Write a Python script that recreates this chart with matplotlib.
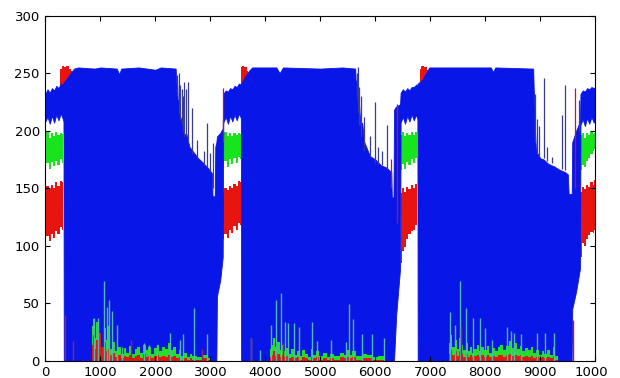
import numpy as np
import matplotlib.pyplot as plt
from matplotlib.transforms import Bbox

nan = np.nan

# blue trace envelope: sample index, lower edge, upper edge
blue_x = [0, 40, 80, 120, 160, 200, 240, 280, 320, 330,
          335, 400, 460, 520, 600, 900, 1000, 1300, 1340, 1380, 1700, 2000, 2100, 2370,
          2380, 2395, 2410, 2430, 2450, 2480, 2520, 2560, 2620, 2700, 2780, 2850, 2950,
          3030, 3040, 3080, 3090, 3110, 3120, 3180, 3225,
          3235, 3280, 3320, 3360, 3400, 3440, 3480, 3520, 3555,
          3560, 3620, 3700, 3760, 4200, 4260, 4320, 5000, 5400, 5635,
          5645, 5660, 5680, 5700, 5730, 5760, 5800, 5850, 5900, 6000, 6100, 6200, 6290,
          6300, 6330, 6340, 6360, 6380, 6450,
          6460, 6500, 6540, 6580, 6620, 6660, 6700, 6740, 6765,
          6770, 6850, 6920, 6980, 8100, 8140, 8180, 8870,
          8880, 8890, 8905, 8920, 8950, 9000, 9060, 9150, 9250, 9350, 9450, 9500,
          9515, 9570, 9580, 9650, 9720,
          9730, 9770, 9810, 9850, 9890, 9930, 9970, 10000]
blue_lo = [208, 212, 206, 213, 207, 214, 209, 215, 210, 208,
           0, 0, 0, 0, 0, 0, 0, 0, 0, 0, 0, 0, 0, 0,
           0, 0, 0, 0, 0, 0, 0, 0, 0, 0, 0, 0, 0,
           0, 0, 0, 0, 0, 56, 70, 90,
           207, 212, 206, 213, 208, 214, 209, 215, 211,
           0, 0, 0, 0, 0, 0, 0, 0, 0, 0,
           0, 0, 0, 0, 0, 0, 0, 0, 0, 0, 0, 0, 0,
           0, 0, 0, 20, 40, 80,
           207, 212, 206, 213, 208, 214, 209, 214, 210,
           0, 0, 0, 0, 0, 0, 0, 0,
           0, 0, 0, 0, 0, 0, 0, 0, 0, 0, 0, 0,
           0, 0, 45, 60, 80,
           205, 210, 204, 211, 206, 212, 207, 210]
blue_hi = [232, 236, 233, 237, 235, 239, 237, 241, 240, 241,
           242, 246, 250, 254, 255, 254, 255, 254, 249, 254, 255, 253, 255, 254,
           240, 246, 222, 228, 208, 212, 196, 198, 186, 181, 176, 173, 168,
           163, 143, 143, 186, 190, 195, 198, 202,
           232, 235, 234, 237, 236, 239, 238, 241, 240,
           241, 246, 252, 255, 255, 250, 255, 254, 255, 254,
           238, 244, 220, 226, 204, 207, 190, 184, 178, 175, 170, 168, 164,
           142, 142, 218, 220, 221, 223,
           233, 236, 234, 237, 235, 238, 238, 240, 240,
           241, 244, 250, 255, 255, 251, 255, 254,
           236, 226, 198, 184, 180, 176, 175, 171, 169, 166, 164, 162,
           145, 145, 190, 200, 208,
           232, 235, 234, 237, 236, 238, 237, 238]

# green trace in the four gaps (nan splits the bands)
green_x = [0, 40, 80, 120, 160, 200, 240, 280, 330, nan,
           3235, 3280, 3320, 3360, 3400, 3440, 3480, 3520, 3555, nan,
           6460, 6500, 6540, 6580, 6620, 6660, 6700, 6740, 6765, nan,
           9730, 9770, 9810, 9850, 9890, 9930, 9970, 10000]
green_lo = [168, 172, 167, 173, 169, 174, 170, 175, 172, nan,
            169, 174, 168, 175, 171, 176, 172, 177, 175, nan,
            166, 171, 167, 173, 170, 175, 172, 176, 173, nan,
            166, 170, 168, 174, 176, 180, 182, 184]
green_hi = [196, 199, 194, 198, 195, 199, 196, 198, 197, nan,
            197, 199, 195, 198, 195, 198, 196, 198, 197, nan,
            196, 199, 195, 198, 196, 199, 196, 199, 198, nan,
            196, 198, 194, 198, 196, 199, 197, 198]

# red trace in the gaps plus the short bursts at the top after each gap
red_x = [0, 40, 80, 120, 160, 200, 240, 280, 330, nan,
         3235, 3280, 3320, 3360, 3400, 3440, 3480, 3520, 3555, nan,
         6460, 6500, 6540, 6580, 6620, 6660, 6700, 6740, 6765, nan,
         9730, 9770, 9810, 9850, 9890, 9930, 9970, 10000, nan,
         270, 320, 360, 400, 450, 490, nan,
         3560, 3600, 3640, 3690, nan,
         6810, 6860, 6910, 6960]
red_lo = [103, 108, 104, 110, 107, 113, 110, 116, 114, nan,
          106, 110, 107, 114, 111, 117, 114, 120, 118, nan,
          85, 95, 99, 106, 110, 113, 114, 118, 117, nan,
          90, 102, 100, 106, 109, 112, 111, 114, nan,
          238, 238, 238, 238, 238, 238, nan,
          238, 238, 238, 238, nan,
          238, 238, 238, 238]
red_hi = [148, 152, 149, 153, 150, 155, 152, 156, 155, nan,
          146, 150, 148, 152, 150, 154, 152, 156, 155, nan,
          146, 150, 147, 151, 149, 153, 150, 154, 153, nan,
          147, 151, 149, 153, 151, 155, 153, 157, nan,
          254, 256, 255, 256, 254, 252, nan,
          255, 256, 255, 252, nan,
          254, 256, 255, 253]

# lone excursions on the falling edges: sample, from, to
drop_x = [2400, 2424, 2445, 2485, 2505, 2527, 2560, 2600, 2667, 2764, 2880, 2940, 3000, 3042,
          5660, 5678, 5710, 5740, 5800, 5896, 6000, 6042, 6122, 6213, 6395,
          8900, 8940, 8970, 9060, 9122, 9212, 9395, 9455, 9697]
drop_lo = [230, 215, 210, 205, 200, 195, 195, 190, 180, 176, 170, 168, 165, 150,
           230, 215, 205, 195, 182, 178, 172, 171, 170, 167, 210,
           190, 180, 178, 176, 174, 172, 167, 166, 200]
drop_hi = [248, 250, 240, 236, 230, 242, 236, 242, 220, 192, 182, 207, 181, 189,
           250, 255, 238, 230, 212, 195, 225, 186, 182, 205, 223,
           232, 210, 204, 246, 186, 177, 214, 240, 227]
red_drop_x = [3232, 6290, 6395, 9636]
red_drop_lo = [190, 150, 120, 150]
red_drop_hi = [237, 175, 221, 237]

# green / red clutter near zero
floor_x = [850, 880, 910, 940, 970, 1000, 1040, 1080, 1120, 1160, 1200, 1250, 1300, 1350,
           1400, 1450, 1500, 1550, 1600, 1650, 1700, 1750, 1800, 1850, 1900, 1950, 2000,
           2050, 2100, 2150, 2200, 2250, 2300, 2350, 2400, 2450, 2500, 2550, 2600, 2650,
           2700, 2800, 2900, 3000, 3040, nan,
           4080, 4120, 4160, 4200, 4240, 4280, 4320, 4360, 4400, 4450, 4500, 4550, 4600,
           4650, 4700, 4750, 4800, 4850, 4900, 4950, 5000, 5100, 5150, 5200, 5300, 5400,
           5450, 5500, 5550, 5600, 5700, 5800, 5900, 6000, 6100, 6200, nan,
           7340, 7380, 7420, 7460, 7500, 7540, 7580, 7620, 7660, 7700, 7740, 7780, 7820,
           7860, 7900, 7950, 8000, 8050, 8100, 8150, 8200, 8250, 8300, 8350, 8400, 8450,
           8500, 8550, 8600, 8650, 8700, 8750, 8800, 8850, 8900, 8950, 9000, 9050, 9100,
           9150, 9200, 9250, 9300, 9330]
green_floor = [30, 36, 20, 34, 15, 22, 12, 28, 18, 30, 10, 16, 8, 12,
               6, 11, 7, 13, 6, 10, 12, 7, 14, 9, 12, 6, 11,
               14, 8, 12, 10, 15, 9, 12, 6, 9, 4, 7, 3, 6,
               4, 3, 5, 2, 0, nan,
               10, 14, 20, 12, 16, 9, 14, 8, 11, 6, 10, 5, 8,
               4, 9, 6, 3, 10, 5, 8, 4, 7, 3, 6, 4, 7,
               5, 9, 5, 8, 4, 6, 5, 3, 4, 0, nan,
               15, 22, 12, 18, 10, 20, 14, 9, 15, 8, 12, 7, 10,
               14, 8, 12, 9, 13, 7, 11, 8, 12, 14, 9, 13, 17,
               11, 15, 10, 13, 8, 11, 9, 12, 7, 9, 5, 8, 6,
               9, 5, 12, 4, 0]
red_floor = [14, 22, 10, 18, 8, 24, 12, 16, 8, 10, 5, 7, 3, 5,
             2, 4, 3, 5, 2, 4, 5, 2, 6, 3, 4, 2, 4,
             5, 3, 4, 3, 5, 3, 4, 2, 3, 1, 2, 1, 2,
             1, 1, 2, 1, 0, nan,
             3, 5, 8, 4, 6, 3, 5, 3, 4, 2, 3, 2, 3,
             1, 3, 2, 1, 3, 2, 3, 1, 2, 1, 2, 1, 3,
             2, 3, 2, 3, 1, 2, 2, 1, 1, 0, nan,
             6, 9, 5, 8, 4, 8, 6, 3, 6, 3, 5, 3, 4,
             5, 3, 5, 3, 5, 3, 4, 3, 5, 5, 3, 5, 6,
             4, 5, 4, 5, 3, 4, 3, 4, 2, 3, 2, 3, 2,
             3, 2, 4, 1, 0]

spike_x = [880, 950, 1060, 1120, 1165, 1210, 1300, 1395, 1790, 1880, 2030, 2260, 2455,
           2510, 2710, 2940, 3740, 3910, 4100, 4200, 4290, 4360, 4420, 4515, 4605,
           4850, 4940, 5200, 5470, 5530, 5600, 5760, 5940, 6150, 7360, 7450, 7545,
           7655, 7775, 7910, 8000, 8120, 8395, 8470, 8530, 8640, 8940, 9080, 9255]
spike_h = [37, 37, 69, 47, 53, 43, 31, 12, 15, 14, 14, 24, 18,
           23, 46, 23, 20, 9, 31, 53, 59, 34, 33, 33, 29,
           34, 17, 18, 16, 49, 36, 23, 23, 20, 42, 31, 69,
           46, 37, 37, 28, 18, 29, 26, 24, 23, 24, 24, 24]
red_spike_x = [360, 510, 1560, 2840, 3740, 4330, 7560, 9600]
red_spike_h = [40, 17, 18, 10, 20, 15, 30, 35]

fig = plt.figure(figsize=(6.2, 3.78), dpi=100)
ax = fig.add_axes([0.0731, 0.0458, 0.8871, 0.9127])

ax.fill_between(red_x, red_lo, red_hi, step='mid', color='#e8140f', lw=0)
ax.fill_between(green_x, green_lo, green_hi, step='mid', color='#18e41e', lw=0)
ax.fill_between(blue_x, blue_lo, blue_hi, color='#0816e8', lw=0.6, edgecolor='#0816e8')
ax.vlines(drop_x, drop_lo, drop_hi, color='#3a3c8e', lw=0.9)
ax.vlines(red_drop_x, red_drop_lo, red_drop_hi, color='#c0142a', lw=0.9)

ax.fill_between(floor_x, 0, green_floor, step='mid', color='#22e02a', lw=0)
ax.fill_between(floor_x, 0, red_floor, step='mid', color='#e01a10', lw=0)
ax.vlines(spike_x, 0, spike_h, color='#52b8b0', lw=1.0)
ax.vlines(red_spike_x, 0, red_spike_h, color='#a0205a', lw=1.0)

ax.set_xlim(0, 10000)
ax.set_ylim(0, 300)
ax.set_xticks(np.arange(0, 10001, 1000))
ax.set_yticks(np.arange(0, 301, 50))
ax.tick_params(direction='in', top=True, right=True, length=3.6, width=0.8,
               labelsize=9.5, pad=4)
for s in ax.spines.values():
    s.set_linewidth(0.8)

# the last tick label is cut at the edge of the original figure
lab = ax.get_xticklabels()[-1]
lab.set_clip_box(Bbox.from_extents(0, 0, 607, 378))
lab.set_clip_on(True)

fig.savefig('out.png', dpi=100)
